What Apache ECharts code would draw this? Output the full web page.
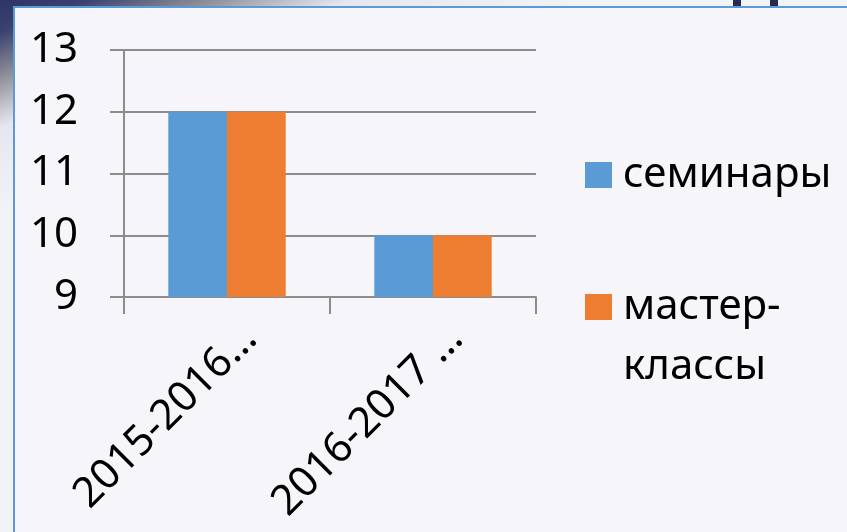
<!DOCTYPE html>
<html>
<head>
<meta charset="utf-8">
<script src="https://cdn.jsdelivr.net/npm/echarts@6/dist/echarts.min.js"></script>
<style>
  html, body { margin: 0; padding: 0; }
  body {
    width: 847px; height: 532px; overflow: hidden;
    background: linear-gradient(160deg, #2c3566 0px, #3a4270 30px, #8a8a95 70px, #e6e7ee 120px, #f2f3f7 200px);
  }
  #chart { width: 847px; height: 532px; }
</style>
</head>
<body>
<div id="chart"></div>
<script>
// data
const categories = ["2015-2016…", "2016-2017 …"];
const seminars = [12, 10];
const masterClasses = [12, 10];
const seriesNames = ["семинары", "мастер-классы"];
const yTicks = [9, 10, 11, 12, 13];

const FONT = "Noto Sans";
const chart = echarts.init(document.getElementById("chart"));

chart.setOption({
  backgroundColor: "transparent",
  animation: false,
  textStyle: { fontFamily: FONT },
  graphic: [
    // slide panel with the blue border
    {
      type: "rect", z: -10, silent: true,
      shape: { x: 14, y: 7, width: 840, height: 540 },
      style: { fill: "#f6f6fa", stroke: "#5b9bd5", lineWidth: 2 }
    },
    // bits of the slide title peeking in at the top
    { type: "rect", z: -9, silent: true, shape: { x: 733, y: 0, width: 8, height: 6 }, style: { fill: "#262c4f" } },
    { type: "rect", z: -9, silent: true, shape: { x: 770, y: 0, width: 8, height: 6 }, style: { fill: "#262c4f" } }
  ],
  grid: { left: 124, right: 311, top: 50, bottom: 235, containLabel: false },
  legend: [
    {
      data: [seriesNames[0]],
      orient: "vertical",
      left: 585, top: 145,
      padding: 0,
      itemWidth: 27, itemHeight: 26,
      icon: "rect",
      textStyle: { fontFamily: FONT, fontSize: 42, color: "#000", lineHeight: 60, padding: [0, 0, 0, 6] }
    },
    {
      // empty first line keeps "мастер-" level with the square
      data: [seriesNames[1]],
      orient: "vertical",
      left: 585, top: 217,
      padding: 0,
      itemWidth: 27, itemHeight: 26,
      icon: "rect",
      formatter: () => " \nмастер-\nклассы",
      textStyle: { fontFamily: FONT, fontSize: 42, color: "#000", lineHeight: 60, padding: [0, 0, 0, 6] }
    }
  ],
  xAxis: {
    type: "category",
    data: categories,
    boundaryGap: true,
    axisLine: { show: true, lineStyle: { color: "#8c8c8c", width: 2 } },
    axisTick: { show: true, length: 17, alignWithLabel: false, lineStyle: { color: "#8c8c8c", width: 2 } },
    axisLabel: {
      rotate: 45,
      interval: 0,
      margin: 12,
      verticalAlign: "top",
      padding: [12, 0, 0, 0],
      fontFamily: FONT,
      fontSize: 42,
      color: "#000"
    }
  },
  yAxis: {
    type: "value",
    min: yTicks[0],
    max: yTicks[yTicks.length - 1],
    interval: 1,
    axisLine: { show: true, lineStyle: { color: "#8c8c8c", width: 2 } },
    axisTick: { show: true, length: 14, lineStyle: { color: "#8c8c8c", width: 2 } },
    splitLine: { show: true, lineStyle: { color: "#8c8c8c", width: 2 } },
    axisLabel: { margin: 46, fontFamily: FONT, fontSize: 42, color: "#000" }
  },
  series: [
    {
      name: seriesNames[0],
      type: "bar",
      data: seminars,
      itemStyle: { color: "#5b9bd5" },
      barGap: "0%",
      barCategoryGap: "43%"
    },
    {
      name: seriesNames[1],
      type: "bar",
      data: masterClasses,
      itemStyle: { color: "#ed7d31" },
      barGap: "0%",
      barCategoryGap: "43%"
    }
  ]
});
</script>
</body>
</html>
